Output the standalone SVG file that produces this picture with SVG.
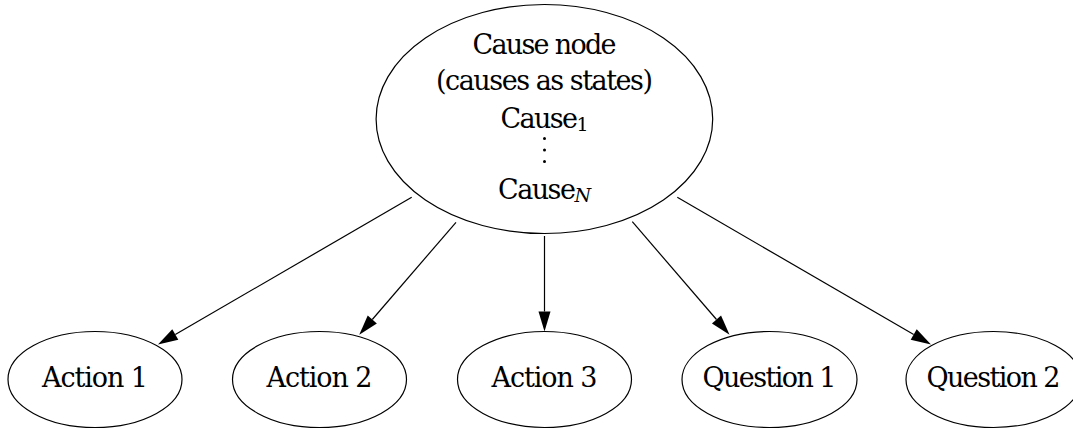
<svg xmlns="http://www.w3.org/2000/svg" width="1073" height="429" viewBox="0 0 1073 429">
  <style>
    .node ellipse { fill: none; stroke: #000; stroke-width: 1.2; }
    .node text { font-family: "DejaVu Serif", serif; font-size: 27px; fill: #000; text-anchor: middle; }
    .edge { fill: none; stroke: #000; stroke-width: 1.2; marker-end: url(#arrow); }
    .sub { font-size: 19px; }
  </style>
  <defs>
    <marker id="arrow" markerUnits="userSpaceOnUse" markerWidth="20" markerHeight="12" viewBox="0 0 20 12" refX="0" refY="6" orient="auto" overflow="visible">
      <path d="M0,0 L20,6 L0,12 z" fill="#000"/>
    </marker>
  </defs>

  <!-- edges from the cause node down to each action / question -->
  <g id="connectors">
    <path class="edge" d="M411.7,197.3 L175.3,334.5"/>
    <path class="edge" d="M456,222.3 L372.3,319.5"/>
    <path class="edge" d="M544.5,236 L544.5,311.5"/>
    <path class="edge" d="M632.3,221.7 L716.5,319.5"/>
    <path class="edge" d="M677.3,197.3 L913.7,334.5"/>
  </g>

  <g id="cause" class="node">
    <ellipse cx="544.4" cy="119" rx="168.3" ry="114.5"/>
    <text x="544.5" y="54" textLength="144">Cause node</text>
    <text x="544.5" y="90" textLength="217">(causes as states)</text>
    <text x="544.5" y="128" textLength="88">Cause<tspan class="sub" dy="3">1</tspan></text>
    <g fill="#000">
      <circle cx="544.5" cy="138.5" r="1.5"/>
      <circle cx="544.5" cy="150" r="1.5"/>
      <circle cx="544.5" cy="161.5" r="1.5"/>
    </g>
    <text x="544.5" y="199" textLength="93">Cause<tspan class="sub" dy="3" font-style="italic">N</tspan></text>
  </g>

  <g id="action1" class="node">
    <ellipse cx="95" cy="379.5" rx="87" ry="48"/>
    <text x="95" y="387" textLength="106">Action 1</text>
  </g>
  <g id="action2" class="node">
    <ellipse cx="319.5" cy="379.5" rx="87" ry="48"/>
    <text x="319.5" y="387" textLength="106">Action 2</text>
  </g>
  <g id="action3" class="node">
    <ellipse cx="544.5" cy="379.5" rx="87" ry="48"/>
    <text x="544.5" y="387" textLength="106">Action 3</text>
  </g>
  <g id="question1" class="node">
    <ellipse cx="769.5" cy="379.5" rx="87.5" ry="48"/>
    <text x="769.5" y="387" textLength="134">Question 1</text>
  </g>
  <g id="question2" class="node">
    <ellipse cx="993.5" cy="379.5" rx="87.5" ry="48"/>
    <text x="993.5" y="387" textLength="134">Question 2</text>
  </g>
</svg>
